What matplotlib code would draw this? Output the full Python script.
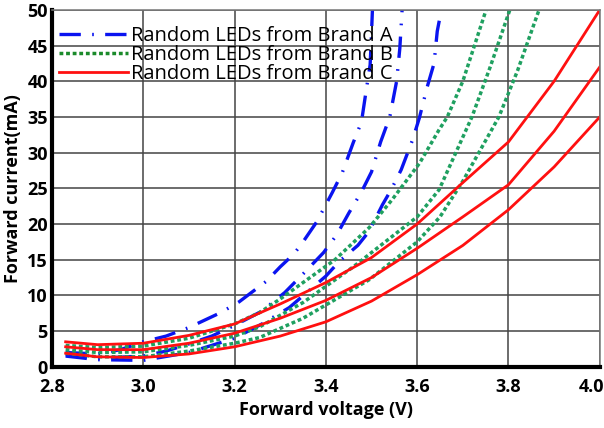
import matplotlib
matplotlib.use('Agg')
import matplotlib.pyplot as plt
from matplotlib.transforms import ScaledTranslation

plt.rcParams['font.family'] = ['Open Sans', 'DejaVu Sans']

# Brand A (blue dash-dot)
a1_v = [2.83, 2.90, 2.95, 3.00, 3.05, 3.10, 3.17, 3.21, 3.27, 3.30, 3.33, 3.35, 3.38, 3.414, 3.436, 3.46, 3.478, 3.489, 3.497, 3.50, 3.502]
a1_i = [2.0, 1.8, 2.4, 3.5, 4.3, 5.5, 7.6, 9.1, 12.0, 14.0, 15.8, 17.5, 20.3, 24.4, 27.2, 31.4, 34.3, 39.0, 42.3, 46.7, 50.0]
a2_v = [2.83, 2.90, 3.00, 3.05, 3.10, 3.15, 3.20, 3.26, 3.31, 3.35, 3.395, 3.424, 3.45, 3.478, 3.50, 3.52, 3.54, 3.555, 3.562, 3.567]
a2_i = [1.7, 1.2, 1.5, 2.2, 3.2, 4.3, 5.8, 7.8, 10.4, 13.0, 16.0, 18.5, 21.5, 24.5, 27.3, 31.5, 35.0, 40.0, 44.6, 50.0]
a3_v = [2.83, 2.90, 3.00, 3.10, 3.20, 3.26, 3.32, 3.36, 3.40, 3.43, 3.47, 3.495, 3.524, 3.543, 3.565, 3.59, 3.605, 3.622, 3.637, 3.644, 3.653]
a3_i = [1.5, 1.0, 0.9, 2.0, 4.0, 6.0, 8.3, 10.5, 12.7, 14.8, 17.0, 19.0, 22.7, 24.8, 27.6, 31.8, 34.9, 39.2, 42.5, 47.0, 50.0]

# Brand B (green dotted)
b1_v = [2.83, 2.90, 3.00, 3.10, 3.20, 3.255, 3.30, 3.35, 3.42, 3.495, 3.545, 3.605, 3.648, 3.666, 3.70, 3.751]
b1_i = [3.0, 2.7, 2.9, 4.0, 6.0, 7.6, 9.5, 11.8, 15.0, 19.5, 23.4, 28.5, 33.2, 35.0, 40.0, 50.0]
b2_v = [2.83, 2.90, 3.00, 3.10, 3.20, 3.255, 3.35, 3.46, 3.50, 3.60, 3.648, 3.72, 3.76, 3.803]
b2_i = [2.4, 2.0, 2.1, 3.0, 4.3, 5.6, 9.0, 14.0, 16.0, 21.0, 24.8, 35.0, 42.0, 50.0]
b3_v = [2.83, 2.90, 3.00, 3.10, 3.20, 3.255, 3.35, 3.495, 3.60, 3.65, 3.70, 3.779, 3.82, 3.867]
b3_i = [1.9, 1.4, 1.4, 2.2, 3.3, 4.1, 6.8, 12.2, 17.5, 21.0, 26.0, 35.0, 41.5, 50.0]

# Brand C (red solid)
c_v = [2.83, 2.90, 3.00, 3.10, 3.20, 3.30, 3.40, 3.50, 3.60, 3.70, 3.80, 3.90, 4.00]
c1_i = [3.5, 3.1, 3.3, 4.4, 6.0, 8.8, 11.8, 15.3, 20.0, 25.8, 31.5, 40.0, 50.0]
c2_i = [2.8, 2.4, 2.4, 3.3, 4.7, 6.8, 9.3, 12.5, 16.6, 21.0, 25.5, 33.0, 42.0]
c3_i = [1.9, 1.4, 1.3, 1.8, 2.8, 4.3, 6.3, 9.2, 12.9, 17.0, 22.0, 28.0, 35.0]

labels = ['Random LEDs from Brand A', 'Random LEDs from Brand B', 'Random LEDs from Brand C']
xticks = [2.8, 3.0, 3.2, 3.4, 3.6, 3.8, 4.0]
yticks = [0, 5, 10, 15, 20, 25, 30, 35, 40, 45, 50]

blue = '#0a14f0'
green = '#1fa060'
red = '#ff1010'

fig = plt.figure(figsize=(6.04, 4.28), dpi=100)
ax = fig.add_axes([0.086, 0.143, 0.907, 0.834])

for v, i in [(a1_v, a1_i), (a2_v, a2_i), (a3_v, a3_i)]:
    la, = ax.plot(v, i, color=blue, lw=2.4, dashes=(6.4, 3.4, 0.5, 3.4))
for v, i in [(b1_v, b1_i), (b2_v, b2_i), (b3_v, b3_i)]:
    lb, = ax.plot(v, i, color=green, lw=2.5, dashes=(1.1, 0.8))
for i in [c1_i, c2_i, c3_i]:
    lc, = ax.plot(c_v, i, color=red, lw=2.0)

ax.set_xlim(2.8, 4.0)
ax.set_ylim(0, 50)
ax.set_xticks(xticks)
ax.set_yticks(yticks)
ax.set_xticklabels(['%.1f' % t for t in xticks])
ax.grid(True, color='#444444', lw=1.1)
ax.set_axisbelow(True)
for s in ['top', 'right']:
    ax.spines[s].set_color('#777777')
    ax.spines[s].set_linewidth(1.1)
for s in ['left', 'bottom']:
    ax.spines[s].set_linewidth(3)
    ax.spines[s].set_color('black')
ax.tick_params(length=0, labelsize=13)
ax.tick_params(axis='x', pad=8)
ax.tick_params(axis='y', pad=3)
for t in ax.get_xticklabels() + ax.get_yticklabels():
    t.set_fontweight('bold')
# last x label sits at the figure edge, nudge it left a little
last = ax.get_xticklabels()[-1]
last.set_transform(last.get_transform() + ScaledTranslation(-6 / 72, 0, fig.dpi_scale_trans))

ax.set_xlabel('Forward voltage (V)', fontsize=13, fontweight='bold', labelpad=4)
ax.set_ylabel('Forward current(mA)', fontsize=13, fontweight='bold', labelpad=4)

leg = ax.legend([la, lb, lc], labels, loc='upper left', bbox_to_anchor=(-0.016, 1.0),
                frameon=False, fontsize=14.5, handlelength=3.4, handletextpad=0.15,
                labelspacing=-0.05, borderaxespad=0.5, borderpad=0.3)
leg.get_lines()[1].set_color('#1a8a2a')

fig.savefig('out.png', dpi=100)
